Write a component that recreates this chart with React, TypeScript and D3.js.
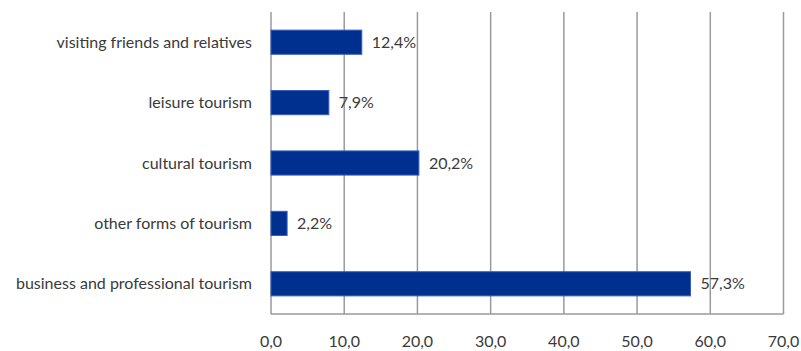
import React from "react";
import * as d3 from "d3";

const categories = [
  "visiting friends and relatives",
  "leisure tourism",
  "cultural tourism",
  "other forms of tourism",
  "business and professional tourism",
];
const values = [12.4, 7.9, 20.2, 2.2, 57.3];
const xTicks = [0, 10, 20, 30, 40, 50, 60, 70];

const W = 801;
const H = 351;
const left = 271;
const right = 783.5;
const top = 12;
const bottom = 314;
const FONT = "Lato, 'Open Sans', sans-serif";

export default function App() {
  const x = d3.scaleLinear().domain([0, 70]).range([left, right]);
  const y = d3
    .scaleBand<string>()
    .domain(categories)
    .range([top, bottom])
    .paddingInner(0.6)
    .paddingOuter(0.3);
  const fmt = (v: number) => v.toFixed(1).replace(".", ",");

  return (
    <svg
      width={W}
      height={H}
      style={{ position: "absolute", left: 0, top: 0, background: "#fff" }}
    >
      {xTicks.map((t) => (
        <line
          key={"g" + t}
          x1={x(t)}
          x2={x(t)}
          y1={top}
          y2={bottom}
          stroke="#9a9a9a"
          strokeWidth={1.5}
        />
      ))}
      <line x1={left} x2={right} y1={bottom} y2={bottom} stroke="#9a9a9a" strokeWidth={1.5} />
      {xTicks.map((t) => (
        <text
          key={"t" + t}
          x={x(t)}
          y={346.5}
          textAnchor="middle"
          fontFamily={FONT}
          fontSize={16}
          fill="#3a3a3a"
        >
          {fmt(t)}
        </text>
      ))}
      {categories.map((c, i) => {
        const y0 = y(c)!;
        const bw = y.bandwidth();
        return (
          <g key={c}>
            <rect
              x={x(0)}
              y={y0}
              width={x(values[i]) - x(0)}
              height={bw}
              fill="#00308f"
              stroke="#3a5cc0"
              strokeWidth={1}
            />
            <text
              x={x(values[i]) + 10}
              y={y0 + bw / 2}
              dy="0.35em"
              fontFamily={FONT}
              fontSize={16}
              fill="#3a3a3a"
            >
              {fmt(values[i]) + "%"}
            </text>
            <text
              x={252}
              y={y0 + bw / 2}
              dy="0.35em"
              textAnchor="end"
              fontFamily={FONT}
              fontSize={16}
              fill="#3a3a3a"
            >
              {c}
            </text>
          </g>
        );
      })}
    </svg>
  );
}
